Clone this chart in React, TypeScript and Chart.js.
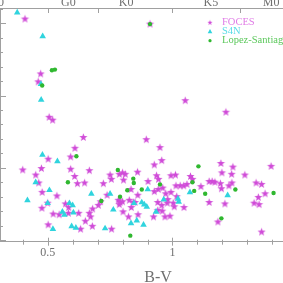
import React, { useEffect, useRef } from "react";
import { Chart, registerables } from "chart.js";

Chart.register(...registerables);

// ---- data (B-V colour index vs. activity value) ----
const focesBV = [
  0.409, 0.472, 0.462, 0.506, 0.52, 1.051, 1.214, 0.895, 0.95, 0.643,
  0.609, 0.592, 0.502, 0.927, 0.957, 0.4, 0.452, 0.475, 0.592, 0.608,
  0.619, 0.648, 0.667, 0.464, 0.478, 0.537, 0.477, 0.5, 0.571, 0.584,
  0.522, 0.546, 0.583, 0.502, 0.624, 0.632, 0.651, 0.667, 0.672, 0.68,
  0.679, 0.703, 0.723, 0.75, 0.755, 0.787, 0.8, 0.811, 0.804, 0.738,
  0.712, 0.783, 0.79, 0.8, 0.787, 0.827, 0.843, 0.802, 0.824, 0.835,
  0.862, 0.756, 0.86, 0.834, 0.902, 0.936, 0.944, 0.994, 1.012, 1.072,
  1.08, 1.014, 1.031, 1.045, 1.058, 1.114, 0.927, 0.943, 0.961, 0.861,
  0.973, 0.994, 1.017, 0.85, 0.941, 0.957, 0.981, 0.979, 1.003, 1.007,
  1.046, 0.941, 0.959, 0.924, 0.97, 0.99, 1.194, 1.242, 1.198, 1.237,
  1.29, 1.395, 1.147, 1.159, 1.17, 1.192, 1.196, 1.226, 1.238, 1.335,
  1.357, 1.344, 1.371, 1.327, 1.347, 1.147, 1.21, 1.182, 1.357, 0.91,
];
const focesY = [
  3.06, 2.3, 2.19, 1.7, 1.66, 1.93, 1.77, 1.39, 1.28, 1.42,
  1.27, 1.15, 1.12, 1.04, 1.1, 0.97, 0.9, 0.99, 0.98, 0.88,
  0.78, 0.79, 0.96, 0.79, 0.66, 0.61, 0.44, 0.51, 0.5, 0.45,
  0.36, 0.35, 0.37, 0.21, 0.37, 0.15, 0.26, 0.37, 0.32, 0.43,
  0.19, 0.48, 0.78, 0.9, 0.84, 0.91, 0.93, 0.91, 0.83, 0.62,
  0.53, 0.55, 0.52, 0.53, 0.49, 0.55, 0.52, 0.39, 0.32, 0.45,
  0.35, 0.15, 0.94, 0.7, 0.81, 0.89, 0.84, 0.89, 0.9, 0.88,
  0.84, 0.75, 0.75, 0.75, 0.77, 0.74, 0.67, 0.7, 0.72, 0.62,
  0.64, 0.66, 0.6, 0.52, 0.52, 0.48, 0.56, 0.51, 0.51, 0.46,
  0.45, 0.41, 0.4, 0.32, 0.32, 0.33, 1.06, 1.01, 0.93, 0.91,
  0.9, 1.02, 0.81, 0.81, 0.8, 0.78, 0.71, 0.75, 0.79, 0.79,
  0.77, 0.59, 0.64, 0.51, 0.49, 0.52, 0.5, 0.25, 0.11, 2.99,
];

const s4nBV = [
  0.378, 0.48, 0.473, 0.474, 0.479, 0.539, 0.452, 0.507, 0.419, 0.5,
  0.587, 0.559, 0.567, 0.6, 0.603, 0.675, 0.596, 0.613, 0.521, 0.75,
  0.763, 0.73, 0.834, 0.846, 0.901, 0.877, 0.887, 0.897, 0.857, 0.884,
  0.965, 1.022, 1.025, 0.934, 1.07, 1.221,
];
const s4nY = [
  3.15, 2.82, 2.16, 1.94, 1.18, 1.09, 0.8, 0.69, 0.55, 0.51,
  0.51, 0.39, 0.35, 0.48, 0.38, 0.64, 0.19, 0.17, 0.15, 0.64,
  0.42, 0.16, 0.23, 0.51, 0.7, 0.52, 0.49, 0.46, 0.27, 0.21,
  0.56, 0.57, 0.53, 0.39, 0.66, 0.62,
];

const lopezBV = [
  0.517, 0.529, 0.478, 0.91, 0.615, 0.581, 0.715, 0.781, 0.843, 0.845,
  0.79, 0.819, 0.831, 0.877, 0.95, 1.104, 1.08, 1.087, 1.131, 1.252,
  1.405, 1.196,
];
const lopezY = [
  2.35, 2.36, 2.14, 2.99, 1.16, 0.8, 0.54, 0.97, 0.85, 0.79,
  0.6, 0.69, 0.06, 0.7, 0.77, 1.02, 0.8, 0.68, 0.64, 0.7,
  0.65, 0.3,
];

const seriesNames = ["FOCES", "S4N", "Lopez-Santiago"];
const seriesColors = ["#d04cd8", "#30d4de", "#30b830"];
const legendTextColors = ["#e07ce6", "#5adce6", "#5cc85c"];

// ---- axis ticks ----
const bvLabelTicks = [0.5, 1];
const spectralTypes = ["F0", "G0", "K0", "K5", "M0"];
const spectralBV = [0.3, 0.583, 0.814, 1.154, 1.395];
const spectralMinorBV = [0.5, 0.7, 1.0, 1.27];

const X_MIN = 0.309;
const X_MAX = 1.575;
const Y_MIN = -0.0235;
const Y_MAX = 3.213;

const CANVAS_W = 346;
const CANVAS_H = 300;
const OFFSET_X = 20;
const AXIS_BOTTOM = 241.7;
const TOP_H = 8;

const AXIS_COLOR = "#a0a0a0";
const LABEL_COLOR = "#707070";
const SERIF = "'Liberation Serif', 'DejaVu Serif', serif";

function makeStar(color: string, outer: number, inner: number) {
  const size = Math.ceil(outer * 2) + 2;
  const c = document.createElement("canvas");
  c.width = size;
  c.height = size;
  const ctx = c.getContext("2d")!;
  ctx.fillStyle = color;
  ctx.beginPath();
  for (let i = 0; i < 10; i++) {
    const r = i % 2 === 0 ? outer : inner;
    const a = -Math.PI / 2 + (i * Math.PI) / 5;
    const x = size / 2 + r * Math.cos(a);
    const y = size / 2 + r * Math.sin(a);
    if (i === 0) ctx.moveTo(x, y);
    else ctx.lineTo(x, y);
  }
  ctx.closePath();
  ctx.fill();
  return c;
}

function zip(xs: number[], ys: number[]) {
  return xs.map((x, i) => ({ x, y: ys[i] }));
}

export default function App() {
  const ref = useRef<HTMLCanvasElement | null>(null);

  useEffect(() => {
    if (!ref.current) return;
    const starImg = makeStar(seriesColors[0], 4.3, 1.75);
    const legendStar = makeStar(seriesColors[0], 2.8, 1.1);

    const decor = {
      id: "decor",
      afterDraw(chart: any) {
        const { ctx, chartArea: a, scales } = chart;
        const xs = scales.x;
        const ys = scales.y;
        const x2 = scales.x2;
        ctx.save();
        ctx.strokeStyle = AXIS_COLOR;
        ctx.lineWidth = 1;
        ctx.beginPath();
        // left axis ticks (inward)
        for (let k = 0; k <= 16; k++) {
          const v = k * 0.2;
          if (v > Y_MAX) break;
          const py = Math.round(ys.getPixelForValue(v)) + 0.5;
          const len = k % 5 === 0 ? 6 : 3;
          ctx.moveTo(a.left, py);
          ctx.lineTo(a.left + len, py);
        }
        // bottom axis ticks
        for (let k = 4; k <= 15; k++) {
          const v = k / 10;
          const px = Math.round(xs.getPixelForValue(v)) + 0.5;
          const major = k % 5 === 0;
          ctx.moveTo(px, a.bottom - (major ? 4 : 2));
          ctx.lineTo(px, a.bottom + (major ? 4 : 3));
        }
        // top axis ticks
        spectralMinorBV.forEach((v) => {
          const px = Math.round(x2.getPixelForValue(v)) + 0.5;
          ctx.moveTo(px, a.top);
          ctx.lineTo(px, a.top + 5);
        });
        ctx.stroke();

        // legend
        const lx = a.left + 210;
        const tx = a.left + 222;
        const ly0 = a.top + 14.7;
        ctx.font = `10.5px ${SERIF}`;
        ctx.textBaseline = "middle";
        ctx.textAlign = "left";
        seriesNames.forEach((name, i) => {
          const ly = ly0 + i * 9;
          ctx.fillStyle = seriesColors[i];
          if (i === 0) {
            ctx.drawImage(legendStar, lx - legendStar.width / 2, ly - legendStar.height / 2);
          } else if (i === 1) {
            ctx.beginPath();
            ctx.moveTo(lx, ly - 2.6);
            ctx.lineTo(lx + 2.3, ly + 1.5);
            ctx.lineTo(lx - 2.3, ly + 1.5);
            ctx.closePath();
            ctx.fill();
          } else {
            ctx.beginPath();
            ctx.arc(lx, ly, 1.6, 0, Math.PI * 2);
            ctx.fill();
          }
          ctx.fillStyle = legendTextColors[i];
          ctx.fillText(name, tx, ly);
        });
        ctx.restore();
      },
    };

    const chart = new Chart(ref.current, {
      type: "scatter",
      data: {
        datasets: [
          {
            label: seriesNames[0],
            data: zip(focesBV, focesY),
            pointStyle: starImg as any,
            backgroundColor: seriesColors[0],
            borderWidth: 0,
            order: 3,
          },
          {
            label: seriesNames[1],
            data: zip(s4nBV, s4nY),
            pointStyle: "triangle",
            pointRadius: 3.8,
            backgroundColor: seriesColors[1],
            borderWidth: 0,
            order: 2,
          },
          {
            label: seriesNames[2],
            data: zip(lopezBV, lopezY),
            pointStyle: "circle",
            pointRadius: 2.2,
            backgroundColor: seriesColors[2],
            borderWidth: 0,
            order: 1,
          },
        ],
      },
      options: {
        animation: false,
        responsive: false,
        maintainAspectRatio: false,
        events: [],
        layout: { padding: { left: 0, right: 10, top: 0, bottom: 0 } },
        plugins: { legend: { display: false }, tooltip: { enabled: false } },
        scales: {
          x: {
            type: "linear",
            position: "bottom",
            min: X_MIN,
            max: X_MAX,
            grid: { display: false, drawTicks: false },
            border: { display: true, color: AXIS_COLOR },
            afterBuildTicks: (s: any) => {
              s.ticks = bvLabelTicks.map((v) => ({ value: v }));
            },
            afterFit: (s: any) => {
              s.height = CANVAS_H - AXIS_BOTTOM;
            },
            ticks: {
              autoSkip: false,
              maxRotation: 0,
              padding: 3.5,
              color: LABEL_COLOR,
              font: { family: SERIF, size: 12 },
              callback: (v: any) => String(v),
            },
            title: {
              display: true,
              text: "B-V",
              color: LABEL_COLOR,
              font: { family: SERIF, size: 16 },
              padding: { top: 0, bottom: 13 },
            },
          },
          x2: {
            type: "linear",
            position: "top",
            min: X_MIN,
            max: X_MAX,
            grid: { display: false, drawTicks: false },
            border: { display: true, color: AXIS_COLOR },
            afterBuildTicks: (s: any) => {
              s.ticks = spectralBV.map((v) => ({ value: v }));
            },
            afterFit: (s: any) => {
              s.height = TOP_H;
            },
            ticks: {
              autoSkip: false,
              maxRotation: 0,
              padding: -2.5,
              color: LABEL_COLOR,
              font: { family: SERIF, size: 12 },
              callback: (_v: any, i: number) => spectralTypes[i],
            },
          },
          y: {
            type: "linear",
            min: Y_MIN,
            max: Y_MAX,
            grid: { display: false, drawTicks: false },
            border: { display: true, color: AXIS_COLOR },
            ticks: { display: false },
            afterFit: (s: any) => {
              s.width = OFFSET_X;
            },
          },
        },
      } as any,
      plugins: [decor],
    });
    return () => chart.destroy();
  }, []);

  return (
    <div
      style={{
        position: "fixed",
        left: 0,
        top: 0,
        width: 283,
        height: 283,
        overflow: "hidden",
        background: "#ffffff",
      }}
    >
      <canvas
        ref={ref}
        width={CANVAS_W}
        height={CANVAS_H}
        style={{ position: "absolute", left: -OFFSET_X, top: 0, width: CANVAS_W, height: CANVAS_H }}
      />
    </div>
  );
}
